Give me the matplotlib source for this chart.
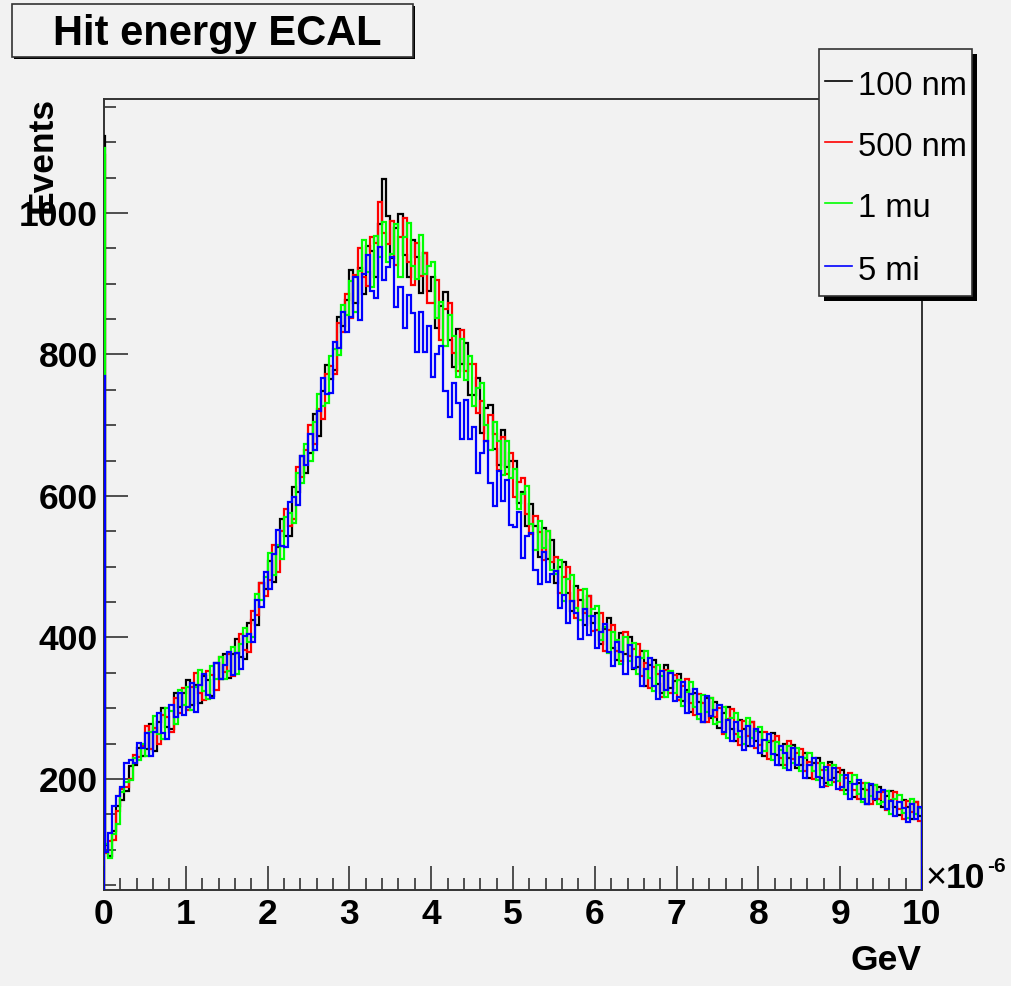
import numpy as np
import matplotlib.pyplot as plt
from matplotlib.patches import Rectangle
from matplotlib.lines import Line2D

plt.rcParams['font.family'] = ['Liberation Sans', 'DejaVu Sans']

W, H = 1012, 986
bg = '#f2f2f2'

labels = ['100 nm', '500 nm', '1 mu', '5 mi']
colors = ['black', 'red', '#00ff00', 'blue']

# first bin 0-0.01 holds the spike, then bins of 0.05 (x in units of 1e-6 GeV)
edges = np.r_[0.0, 0.01, np.linspace(0.05, 10.0, 200)]

nm100 = [1108,
    107, 91, 127, 162, 170, 183, 218, 220, 243, 233,
    242, 277, 239, 281, 300, 273, 271, 322, 301, 321,
    340, 305, 333, 307, 346, 340, 317, 364, 341, 376,
    343, 377, 398, 372, 370, 420, 425, 417, 477, 469,
    508, 479, 528, 568, 543, 543, 613, 605, 657, 632,
    661, 716, 684, 748, 785, 765, 778, 853, 840, 877,
    920, 872, 922, 886, 953, 946, 910, 984, 1048, 996,
    936, 978, 998, 941, 910, 962, 937, 887, 944, 889,
    909, 837, 869, 888, 820, 782, 836, 786, 816, 742,
    742, 766, 689, 724, 729, 666, 643, 693, 641, 650,
    650, 590, 605, 557, 588, 557, 513, 554, 511, 537,
    477, 499, 507, 463, 438, 472, 453, 418, 458, 420,
    435, 390, 412, 427, 385, 368, 406, 377, 400, 355,
    358, 381, 331, 361, 368, 334, 321, 361, 329, 339,
    349, 310, 326, 295, 322, 309, 281, 314, 286, 309,
    272, 293, 302, 270, 253, 283, 271, 246, 280, 253,
    266, 233, 252, 265, 234, 219, 250, 229, 248, 215,
    219, 236, 201, 223, 230, 202, 194, 224, 201, 210,
    213, 184, 196, 174, 194, 186, 165, 191, 170, 189,
    161, 176, 183, 160, 149, 170, 161, 143, 167, 148]

nm500 = [1082,
    96, 112, 113, 155, 186, 189, 200, 234, 231, 246,
    275, 242, 272, 249, 290, 287, 266, 315, 293, 329,
    297, 330, 350, 321, 312, 353, 347, 326, 373, 351,
    376, 345, 378, 405, 382, 380, 438, 432, 477, 459,
    481, 530, 492, 550, 582, 558, 568, 641, 627, 665,
    700, 674, 723, 709, 773, 783, 772, 844, 831, 886,
    852, 912, 950, 910, 897, 966, 958, 1016, 971, 956,
    988, 926, 966, 993, 930, 898, 957, 911, 944, 873,
    873, 905, 821, 864, 872, 802, 776, 834, 776, 786,
    787, 717, 734, 678, 715, 688, 636, 683, 631, 660,
    599, 620, 626, 575, 546, 572, 549, 509, 550, 507,
    514, 463, 485, 499, 452, 427, 467, 434, 458, 409,
    411, 434, 381, 411, 418, 381, 367, 408, 374, 384,
    391, 346, 364, 329, 358, 348, 316, 354, 321, 347,
    312, 332, 341, 308, 291, 320, 307, 281, 315, 287,
    300, 264, 284, 299, 264, 248, 282, 260, 280, 244,
    248, 267, 228, 253, 260, 229, 220, 253, 228, 237,
    242, 211, 224, 200, 223, 213, 190, 219, 196, 215,
    184, 201, 208, 184, 171, 194, 185, 165, 192, 172,
    182, 156, 170, 181, 157, 144, 169, 153, 167, 141]

mu1 = [1092,
    108, 88, 122, 136, 181, 196, 198, 230, 227, 250,
    232, 267, 289, 263, 256, 300, 296, 277, 325, 304,
    330, 298, 330, 354, 324, 313, 360, 341, 373, 341,
    353, 387, 348, 390, 414, 393, 400, 462, 453, 486,
    520, 488, 531, 511, 570, 576, 562, 632, 618, 674,
    649, 704, 744, 727, 731, 798, 808, 799, 870, 856,
    904, 860, 918, 962, 917, 895, 968, 938, 987, 930,
    942, 984, 910, 966, 986, 925, 906, 969, 914, 925,
    930, 852, 874, 812, 856, 826, 768, 822, 764, 798,
    727, 752, 759, 700, 665, 705, 678, 630, 677, 625,
    638, 581, 602, 614, 561, 524, 564, 527, 550, 495,
    489, 510, 451, 482, 488, 441, 425, 468, 430, 440,
    445, 397, 415, 378, 408, 397, 362, 400, 367, 392,
    348, 371, 381, 343, 324, 361, 346, 316, 353, 322,
    340, 303, 323, 337, 302, 285, 318, 295, 315, 278,
    280, 302, 258, 286, 293, 259, 249, 286, 258, 268,
    274, 239, 254, 227, 252, 241, 216, 247, 222, 243,
    211, 229, 237, 211, 198, 222, 212, 192, 219, 197,
    206, 179, 194, 206, 179, 167, 194, 176, 192, 165,
    167, 183, 151, 171, 177, 152, 145, 172, 151, 159]

mi5 = [770,
    97, 123, 162, 176, 189, 222, 227, 223, 251, 243,
    265, 233, 267, 293, 265, 256, 305, 288, 321, 290,
    302, 335, 294, 333, 349, 319, 315, 364, 341, 361,
    380, 347, 378, 356, 402, 405, 393, 453, 443, 492,
    469, 518, 552, 529, 528, 591, 598, 587, 657, 644,
    688, 665, 720, 766, 744, 746, 817, 809, 860, 832,
    853, 910, 849, 914, 941, 890, 880, 952, 905, 924,
    938, 867, 895, 838, 884, 858, 803, 860, 804, 840,
    768, 800, 812, 748, 712, 760, 732, 680, 736, 680,
    697, 633, 661, 678, 618, 586, 635, 593, 622, 559,
    556, 577, 512, 543, 547, 495, 476, 521, 479, 489,
    494, 442, 460, 420, 452, 435, 398, 440, 403, 430,
    385, 408, 419, 380, 360, 394, 379, 349, 389, 357,
    373, 332, 355, 371, 332, 313, 353, 326, 350, 310,
    316, 337, 293, 320, 327, 292, 281, 317, 289, 298,
    305, 267, 283, 253, 280, 268, 241, 275, 247, 271,
    236, 255, 264, 235, 220, 247, 236, 213, 244, 219,
    231, 202, 219, 230, 203, 189, 217, 198, 215, 186,
    188, 205, 171, 193, 198, 172, 165, 193, 172, 181,
    185, 157, 169, 148, 168, 159, 139, 164, 144, 161]

series = [nm100, nm500, mu1, mi5]


def fx(px):
    return px / W


def fy(py):
    return 1 - py / H


def box(x0, y0, x1, y1, off):
    # ROOT style pave: black shadow, then framed box
    fig.add_artist(Rectangle((fx(x0 + off), fy(y1 + off)), fx(x1 - x0), (y1 - y0) / H,
                             transform=fig.transFigure, facecolor='black', edgecolor='none'))
    fig.add_artist(Rectangle((fx(x0), fy(y1)), fx(x1 - x0), (y1 - y0) / H,
                             transform=fig.transFigure, facecolor=bg, edgecolor='#333333', lw=1.2))


fig = plt.figure(figsize=(W / 100, H / 100), dpi=100, facecolor=bg)
ax = fig.add_axes([fx(104), fy(890), fx(922 - 104), (890 - 99) / H])
ax.set_facecolor(bg)

for vals, c in zip(series, colors):
    ax.stairs(vals, edges, baseline=0, color=c, lw=1.6, zorder=3)

ax.set_xlim(0, 10)
ax.set_ylim(43, 1161)
ax.set_xticks(range(11))
ax.set_xticks(np.arange(0, 10.01, 0.2), minor=True)
ax.set_yticks([200, 400, 600, 800, 1000])
ax.set_yticks(np.arange(50, 1161, 50), minor=True)
ax.tick_params(which='both', direction='in', top=False, right=False,
               color='#333333', width=1.2)
ax.tick_params(which='major', length=17, labelsize=25.5)
ax.tick_params(which='minor', length=8.5)
ax.tick_params(axis='x', pad=6)
ax.tick_params(axis='y', pad=4.5)
for lab in ax.get_xticklabels() + ax.get_yticklabels():
    lab.set_fontweight('bold')
for sp in ax.spines.values():
    sp.set_color('#333333')
    sp.set_linewidth(1.4)

# title
box(12, 4, 413, 57, 2)
fig.text(fx(217), fy(45), 'Hit energy ECAL', ha='center', va='baseline',
         fontsize=30, fontweight='bold')

# legend
box(819, 49, 972, 296, 5)
line_y = [81, 142, 203, 266]
for lab, c, ly in zip(labels, colors, line_y):
    fig.add_artist(Line2D([fx(825), fx(852)], [fy(ly), fy(ly)], color=c, lw=1.2,
                          transform=fig.transFigure))
    fig.text(fx(858), fy(ly + 14), lab, ha='left', va='baseline', fontsize=23.5)

# axis titles
fig.text(fx(42), fy(97), 'Events', rotation=90, ha='center', va='top',
         fontsize=25.5, fontweight='bold')
fig.text(fx(922), fy(970), 'GeV', ha='right', va='baseline',
         fontsize=25.5, fontweight='bold')
fig.text(fx(925), fy(888), '\u00d7', ha='left', va='baseline', fontsize=26)
fig.text(fx(946), fy(888), '10', ha='left', va='baseline', fontsize=25.5, fontweight='bold')
fig.text(fx(987), fy(872), '-6', ha='left', va='baseline', fontsize=15, fontweight='bold')

fig.savefig('out.png', dpi=100, facecolor=bg)
